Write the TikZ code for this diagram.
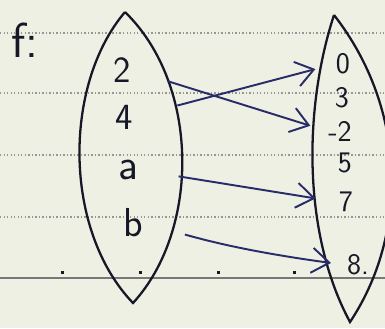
\documentclass[tikz,border=0pt]{standalone}
\usepackage{tikz}
\usetikzlibrary{arrows.meta,positioning}
\definecolor{paper}{RGB}{238,240,228}
\definecolor{ink}{RGB}{22,24,40}
\definecolor{pen}{RGB}{40,44,104}
\definecolor{rule}{RGB}{150,150,150}

\begin{document}
\begin{tikzpicture}[
        x=0.02cm, y=-0.02cm,
        every node/.style={font=\sffamily\fontsize{21}{24}\selectfont, text=ink, inner sep=0.5pt},
        elem/.style={font=\sffamily\fontsize{17}{19}\selectfont},
        lens/.style={draw=ink, line width=1.3pt},
        maparrow/.style={draw=pen, line width=1.1pt, -{Straight Barb[length=3.5mm, width=5mm]}},
        dotline/.style={rule, line width=0.6pt, dash pattern=on 0.8pt off 1.2pt}
    ]
    % Paper
    \fill[paper] (0,0) rectangle (385,328);
    \useasboundingbox (0,0) rectangle (385,328);
    \foreach \ry in {33,93,155,217}
        \draw[dotline] (0,\ry) -- (385,\ry);
    \draw[rule!80!black, line width=0.7pt] (0,278) -- (385,278);
    \foreach \dx in {62,140,218,294}
        \fill[ink] (\dx-1.5,271) rectangle (\dx+1.5,274);

    % Sets
    \coordinate (ltop) at (125,12);
    \coordinate (lbot) at (133,303);
    \coordinate (rtop) at (334,15);
    \coordinate (rbot) at (350,322);
    \draw[lens] (ltop) .. controls (63,85) and (63,230) .. (lbot)
        .. controls (200,230) and (200,85) .. (ltop);
    \begin{scope}
        \clip (0,0) rectangle (385,328);
        \draw[lens] (rtop) .. controls (303,110) and (303,235) .. (rbot)
            .. controls (408,235) and (408,110) .. (rtop);
    \end{scope}

    % Labels
    \node[font=\sffamily\fontsize{28}{32}\selectfont] (f) at (25,40) {f:};
    \node (n2) at (122,70) {2};
    \node (n4) at (124,117) {4};
    \node[font=\sffamily\fontsize{25}{28}\selectfont] (na) at (128,170) {a};
    \node[font=\sffamily\fontsize{23}{26}\selectfont] (nb) at (133,223) {b};
    \node[elem] (r0) at (343,64) {0};
    \node[elem] (r3) at (342,98) {3};
    \node[elem] (rm2) at (340,131) {-2};
    \node[elem] (r5) at (345,163) {5};
    \node[elem] (r7) at (346,202) {7};
    \node[elem] (r8) at (358,265) {8.};

    % Arrows
    \draw[maparrow, shorten <=0.75cm, shorten >=0.35cm] (n2.east) -- (rm2.west);
    \draw[maparrow, shorten <=0.9cm, shorten >=0.4cm] (n4.east) -- (r0.west);
    \draw[maparrow, shorten <=0.8cm, shorten >=0.45cm] (na.east) -- (r7.west);
    \draw[maparrow, shorten <=0.85cm, shorten >=0.3cm] (nb.east) to[bend right=4] (r8.west);
\end{tikzpicture}
\end{document}
